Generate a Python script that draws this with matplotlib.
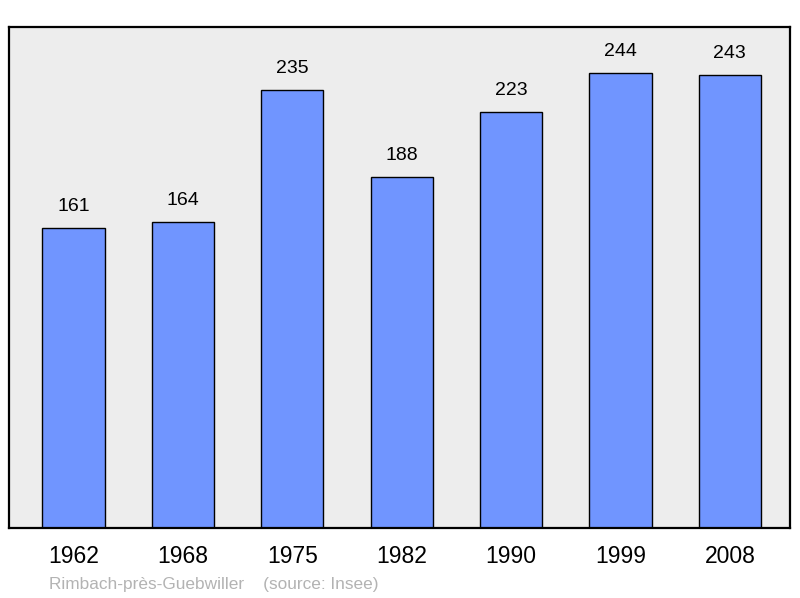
import matplotlib
matplotlib.use("Agg")
import matplotlib.pyplot as plt

plt.rcParams['font.family'] = ['Liberation Sans', 'DejaVu Sans']

# population by census year
years = ["1962", "1968", "1975", "1982", "1990", "1999", "2008"]
population = [161, 164, 235, 188, 223, 244, 243]

fig = plt.figure(figsize=(8, 5.98), dpi=100)
ax = fig.add_axes([9/800, 1-528/598, 781/800, 501/598])
ax.set_facecolor("#ededed")

pos = range(len(years))
bars = ax.bar(pos, population, width=0.57, color="#7095ff", edgecolor="black", linewidth=1.0)

for x, v in zip(pos, population):
    ax.annotate(str(v), (x, v), xytext=(0, 15.5), textcoords="offset points",
                ha="center", va="center", fontsize=14)

ax.set_xlim(-0.59, 6.55)
ax.set_ylim(0, 268.6)
ax.set_xticks(list(pos))
ax.set_xticklabels(years, fontsize=16.5)
ax.tick_params(axis="x", length=0, pad=12.5)
ax.set_yticks([])
for s in ax.spines.values():
    s.set_linewidth(1.6)

fig.text(49/800, 1-585/598, "Rimbach-près-Guebwiller    (source: Insee)",
         color="#b3b3b3", fontsize=12.4, va="center", ha="left")

fig.savefig("out.png", dpi=100)
